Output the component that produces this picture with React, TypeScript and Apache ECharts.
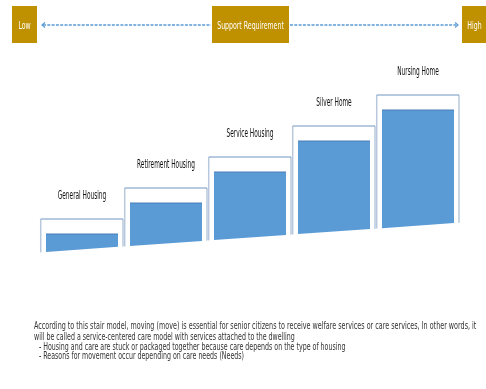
import React, { useEffect, useRef } from "react";
import * as echarts from "echarts";

const CATEGORIES = ["General Housing", "Retirement Housing", "Service Housing", "Silver Home", "Nursing Home"];
const SUPPORT_LEVEL = [1, 2, 3, 4, 5];
const SCALE_LABELS = ["Low", "Support Requirement", "High"];
const NOTES = [
  "According to this stair model, moving (move) is essential for senior citizens to receive welfare services or care services, In other words, it",
  "will be called a service-centered care model with services attached to the dwelling",
  "- Housing and care are stuck or packaged together because care depends on the type of housing",
  "- Reasons for movement occur depending on care needs (Needs)",
];

const FONT = '"Liberation Sans Narrow", "DejaVu Sans Condensed", "Liberation Sans", sans-serif';
const GOLD = "#bf9000";
const BLUE = "#5b9bd5";

export default function App() {
  const ref = useRef<HTMLDivElement>(null);
  useEffect(() => {
    if (!ref.current) return;
    const chart = echarts.init(ref.current, null, { renderer: "svg" });

    const renderItem = (params: any, api: any) => {
      const idx = api.value(0);
      const lvl = api.value(1);
      const pt = api.coord([idx, lvl]);
      const cx = pt[0];
      const topY = pt[1];
      const cs = params.coordSys;
      const floorL = cs.y + cs.height - 12.6;
      const floorR = cs.y + cs.height - 42.4;
      const floor = (x: number) => floorL + ((x - cs.x) / cs.width) * (floorR - floorL);
      const frL = cx - 41.3;
      const frR = cx + 41;
      const fiL = cx - 36;
      const fiR = cx + 36;
      const frTop = topY - 15;
      return {
        type: "group",
        children: [
          {
            type: "polyline",
            shape: { points: [[frL, floor(frL)], [frL, frTop]] },
            style: { stroke: "#b7c8dc", lineWidth: 1.5, fill: null },
          },
          {
            type: "polyline",
            shape: { points: [[frR, frTop], [frR, floor(frR)]] },
            style: { stroke: "#b7c8dc", lineWidth: 1.5, fill: null },
          },
          {
            type: "line",
            shape: { x1: frL, y1: frTop, x2: frR, y2: frTop },
            style: { stroke: "#7096c2", lineWidth: 1.2 },
          },
          {
            type: "polygon",
            shape: { points: [[fiL, topY], [fiR, topY], [fiR, floor(fiR)], [fiL, floor(fiL)]] },
            style: { fill: BLUE, stroke: null },
          },
          {
            type: "line",
            shape: { x1: fiL, y1: topY, x2: fiR, y2: topY },
            style: { stroke: "#4a7fb8", lineWidth: 1 },
          },
          {
            type: "text",
            x: cx,
            y: frTop - 24,
            scaleX: 0.54,
            style: {
              text: CATEGORIES[idx],
              fill: "#111",
              fontSize: 12,
              fontFamily: FONT,
              textAlign: "center",
              verticalAlign: "middle",
            },
          },
        ],
      };
    };

    const headerRects = [
      { x: 12, w: 25, cx: 24.5 },
      { x: 212, w: 77, cx: 250.5 },
      { x: 462, w: 24, cx: 474.5 },
    ];

    const graphic: any[] = [];
    headerRects.forEach((r, i) => {
      graphic.push({
        type: "rect",
        shape: { x: r.x, y: 6, width: r.w, height: 37 },
        style: { fill: GOLD },
      });
      graphic.push({
        type: "text",
        x: r.cx,
        y: 24.5,
        scaleX: 0.63,
        style: {
          text: SCALE_LABELS[i],
          fill: "#fff",
          fontSize: 11,
          fontFamily: FONT,
          textAlign: "center",
          verticalAlign: "middle",
        },
      });
    });
    graphic.push(
      { type: "line", shape: { x1: 43, y1: 25, x2: 211, y2: 25 }, style: { stroke: BLUE, lineWidth: 1.5, lineDash: [3, 1.3] } },
      { type: "line", shape: { x1: 290, y1: 25, x2: 457, y2: 25 }, style: { stroke: BLUE, lineWidth: 1.5, lineDash: [3, 1.3] } },
      { type: "polyline", shape: { points: [[45, 22.5], [42, 25], [45, 27.5]] }, style: { stroke: BLUE, lineWidth: 1.2, fill: null } },
      { type: "polyline", shape: { points: [[455, 22.5], [458, 25], [455, 27.5]] }, style: { stroke: BLUE, lineWidth: 1.2, fill: null } }
    );
    const noteX = [34, 34, 39, 39];
    const noteY = [326, 336.5, 346.5, 356];
    const noteScale = [0.715, 0.7, 0.7, 0.7];
    NOTES.forEach((t, i) => {
      graphic.push({
        type: "text",
        x: noteX[i],
        y: noteY[i],
        scaleX: noteScale[i],
        style: {
          text: t,
          fill: "#333",
          fontSize: 10,
          fontFamily: FONT,
          textAlign: "left",
          verticalAlign: "middle",
        },
      });
    });

    chart.setOption({
      animation: false,
      grid: { left: 40, width: 420, top: 79, height: 186 },
      xAxis: { type: "category", data: CATEGORIES, show: false },
      yAxis: { type: "value", min: 0, max: 6, show: false, splitLine: { show: false } },
      series: [
        {
          type: "custom",
          renderItem,
          data: SUPPORT_LEVEL.map((v, i) => [i, v]),
        },
      ],
      graphic,
    });
    return () => chart.dispose();
  }, []);
  return <div ref={ref} style={{ position: "fixed", left: 0, top: 0, width: 486, height: 389 }} />;
}
